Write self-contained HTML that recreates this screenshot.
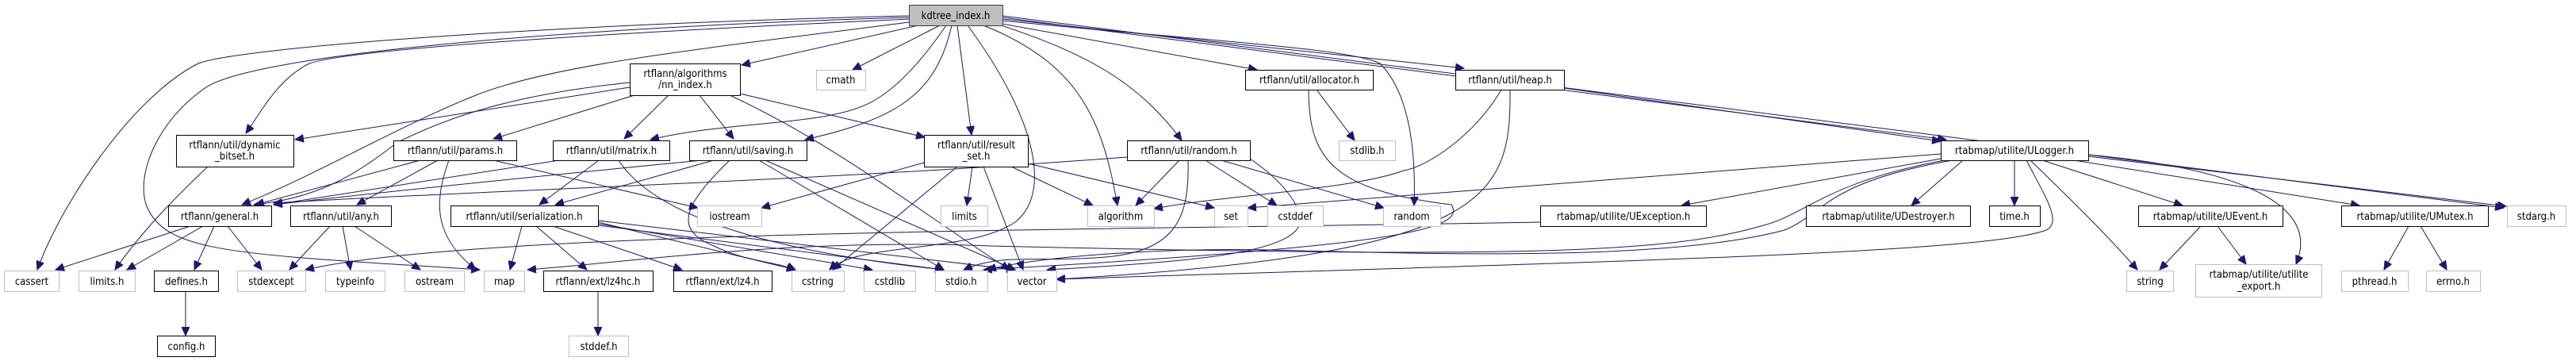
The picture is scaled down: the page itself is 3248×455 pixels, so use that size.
<!DOCTYPE html>
<html><head><meta charset="utf-8"><style>
html,body{margin:0;padding:0;background:#fff;}
svg{display:block;}
text{font-family:"DejaVu Sans Condensed","DejaVu Sans","Liberation Sans",sans-serif;font-size:13px;fill:#000;text-anchor:middle;}
.b{fill:#fff;stroke:#000;stroke-width:1;}
.g{fill:#fff;stroke:#bfbfbf;stroke-width:1;}
.e{fill:none;stroke:#191970;stroke-width:1;marker-end:url(#a);}
</style></head><body>
<svg width="3248" height="455" viewBox="0 0 3248 455" xmlns="http://www.w3.org/2000/svg">
<defs><marker id="a" markerUnits="userSpaceOnUse" markerWidth="12" markerHeight="10" refX="11" refY="5" orient="auto"><path d="M0,0 L11,5 L0,10 z" fill="#191970" stroke="#191970"/></marker></defs>
<g>
<!-- kdtree edges -->
<path class="e" d="M1146,20 C700,30 300,60 250,80 C170,120 80,250 47,340"/>
<path class="e" d="M1146,22 C700,35 320,70 260,110 C200,150 170,220 185,260 C210,320 300,320 605,340"/>
<path class="e" d="M1146,24 C800,40 450,60 390,80 C350,100 330,140 310,168"/>
<path class="e" d="M1146,28 C900,60 700,80 600,120 C500,160 400,220 305,258"/>
<path class="e" d="M1158,32 L935,82"/>
<path class="e" d="M1185,32 L1075,88"/>
<path class="e" d="M1193,32 C1160,80 1130,110 1105,125 C1050,160 930,150 820,176"/>
<path class="e" d="M1200,32 C1180,120 1130,150 1015,176"/>
<path class="e" d="M1207,32 L1225,170"/>
<path class="e" d="M1220,32 C1300,140 1330,240 1280,280 C1220,320 1080,305 1046,340"/>
<path class="e" d="M1240,32 C1360,80 1390,150 1409,259"/>
<path class="e" d="M1262,32 C1380,70 1440,110 1490,177"/>
<path class="e" d="M1264,30 L1585,88"/>
<path class="e" d="M1264,26 C1500,50 1700,60 1740,80 C1780,120 1785,200 1783,259"/>
<path class="e" d="M1264,24 L1846,86"/>
<path class="e" d="M1264,22 L2454,176"/>
<path class="e" d="M1264,20 L3157,262"/>
<!-- nn_index edges -->
<path class="e" d="M794,110 L372,176"/>
<path class="e" d="M794,104 C640,120 560,150 500,180 C450,220 400,250 320,258"/>
<path class="e" d="M800,120 L622,175"/>
<path class="e" d="M843,120 L787,175"/>
<path class="e" d="M882,120 L925,175"/>
<path class="e" d="M933,118 L1166,173"/>
<path class="e" d="M920,120 C1050,180 1150,260 1273,340"/>
<!-- dynamic_bitset -->
<path class="e" d="M262,210 C220,250 180,290 145,340"/>
<!-- params -->
<path class="e" d="M530,202 L322,258"/>
<path class="e" d="M552,202 L450,258"/>
<path class="e" d="M566,202 C545,260 550,300 600,340"/>
<path class="e" d="M622,202 L880,262"/>
<!-- matrix -->
<path class="e" d="M705,202 L345,258"/>
<path class="e" d="M755,202 L680,258"/>
<path class="e" d="M780,202 C830,280 1000,320 1190,340"/>
<!-- saving -->
<path class="e" d="M885,202 C700,220 500,240 345,258"/>
<path class="e" d="M900,202 L700,258"/>
<path class="e" d="M920,202 C860,260 850,290 900,310 C940,330 980,330 1003,340"/>
<path class="e" d="M957,202 L1190,340"/>
<path class="e" d="M965,202 L1280,340"/>
<!-- result_set -->
<path class="e" d="M1165,205 L960,262"/>
<path class="e" d="M1226,210 L1219,259"/>
<path class="e" d="M1275,210 L1378,259"/>
<path class="e" d="M1296,206 L1531,262"/>
<path class="e" d="M1207,210 L1050,340"/>
<path class="e" d="M1240,210 L1290,340"/>
<!-- random.h -->
<path class="e" d="M1421,198 C1000,230 600,240 345,256"/>
<path class="e" d="M1487,202 L1432,259"/>
<path class="e" d="M1520,202 L1610,259"/>
<path class="e" d="M1540,202 L1745,262"/>
<path class="e" d="M1498,202 C1500,280 1480,320 1380,325 C1300,330 1260,320 1215,340"/>
<path class="e" d="M1576,200 C1620,230 1640,260 1640,280 C1630,320 1500,330 1320,340"/>
<!-- allocator -->
<path class="e" d="M1660,113 L1708,177"/>
<path class="e" d="M1650,113 C1650,200 1680,240 1830,258 C1850,290 1760,310 1240,340"/>
<!-- heap -->
<path class="e" d="M1893,113 C1860,170 1800,210 1770,215 C1700,240 1550,245 1455,263"/>
<path class="e" d="M1904,113 C1905,250 1880,320 1332,352"/>
<path class="e" d="M1972,111 L2447,178"/>
<!-- ULogger -->
<path class="e" d="M2447,194 L1573,262"/>
<path class="e" d="M2447,200 L2120,259"/>
<path class="e" d="M2452,202 C2300,230 2280,270 2220,285 C2100,320 1900,325 1250,310 C1000,300 800,330 665,340"/>
<path class="e" d="M2462,202 C2300,230 2300,270 2250,290 C2100,330 1800,320 1600,315 C1450,312 1300,325 1245,340"/>
<path class="e" d="M2475,202 L2410,259"/>
<path class="e" d="M2540,202 L2540,259"/>
<path class="e" d="M2555,202 C2580,250 2600,280 2580,290 C2500,320 2000,330 1332,352"/>
<path class="e" d="M2560,202 C2620,260 2660,300 2695,340"/>
<path class="e" d="M2575,202 L2752,259"/>
<path class="e" d="M2615,202 L2975,259"/>
<path class="e" d="M2633,197 L3160,260"/>
<path class="e" d="M2633,195 C2800,210 2930,250 2895,333"/>
<!-- UException -->
<path class="e" d="M1942,280 C1400,290 600,290 385,340"/>
<!-- serialization -->
<path class="e" d="M658,285 L643,340"/>
<path class="e" d="M676,285 L740,340"/>
<path class="e" d="M697,285 L860,340"/>
<path class="e" d="M754,280 L1003,340"/>
<path class="e" d="M754,282 L1100,340"/>
<path class="e" d="M754,284 L1190,340"/>
<path class="e" d="M754,278 L1280,340"/>
<!-- general -->
<path class="e" d="M240,285 L70,340"/>
<path class="e" d="M256,285 L160,340"/>
<path class="e" d="M270,285 L245,340"/>
<path class="e" d="M287,285 L330,340"/>
<!-- any -->
<path class="e" d="M416,285 L365,340"/>
<path class="e" d="M432,285 L442,340"/>
<path class="e" d="M447,285 L530,340"/>
<!-- leaves -->
<path class="e" d="M234,367 L234,423"/>
<path class="e" d="M754,367 L754,423"/>
<path class="e" d="M2775,285 L2723,340"/>
<path class="e" d="M2796,285 L2832,333"/>
<path class="e" d="M3037,285 L3006,340"/>
<path class="e" d="M3052,285 L3085,340"/>
</g>
<!-- nodes -->
<rect x="1146.5" y="6.5" width="118" height="26" fill="#bfbfbf" stroke="#404040"/><text x="1205" y="24">kdtree_index.h</text>
<rect class="b" x="794.5" y="80.5" width="139" height="40"/><text x="864" y="97">rtflann/algorithms</text><text x="864" y="111">/nn_index.h</text>
<rect class="g" x="1029.5" y="88.5" width="62" height="25"/><text x="1060" y="105">cmath</text>
<rect class="b" x="1570.5" y="88.5" width="161" height="25"/><text x="1651" y="105">rtflann/util/allocator.h</text>
<rect class="b" x="1835.5" y="88.5" width="137" height="25"/><text x="1904" y="105">rtflann/util/heap.h</text>
<rect class="b" x="222.5" y="170.5" width="148" height="40"/><text x="296" y="187">rtflann/util/dynamic</text><text x="296" y="201">_bitset.h</text>
<rect class="b" x="496.5" y="177.5" width="155" height="25"/><text x="574" y="194">rtflann/util/params.h</text>
<rect class="b" x="697.5" y="177.5" width="147" height="25"/><text x="771" y="194">rtflann/util/matrix.h</text>
<rect class="b" x="869.5" y="177.5" width="148" height="25"/><text x="943" y="194">rtflann/util/saving.h</text>
<rect class="b" x="1165.5" y="170.5" width="131" height="40"/><text x="1231" y="187">rtflann/util/result</text><text x="1231" y="201">_set.h</text>
<rect class="b" x="1421.5" y="177.5" width="155" height="25"/><text x="1499" y="194">rtflann/util/random.h</text>
<rect class="g" x="1688.5" y="177.5" width="71" height="25"/><text x="1724" y="194">stdlib.h</text>
<rect class="b" x="2447.5" y="177.5" width="186" height="25"/><text x="2540" y="194">rtabmap/utilite/ULogger.h</text>
<rect class="b" x="212.5" y="259.5" width="130" height="26"/><text x="277" y="277">rtflann/general.h</text>
<rect class="b" x="366.5" y="259.5" width="127" height="26"/><text x="430" y="277">rtflann/util/any.h</text>
<rect class="b" x="568.5" y="259.5" width="186" height="26"/><text x="661" y="277">rtflann/util/serialization.h</text>
<rect class="g" x="879.5" y="259.5" width="81" height="26"/><text x="920" y="277">iostream</text>
<rect class="g" x="1186.5" y="259.5" width="59" height="26"/><text x="1216" y="277">limits</text>
<rect class="g" x="1371.5" y="259.5" width="84" height="26"/><text x="1413" y="277">algorithm</text>
<rect class="g" x="1531.5" y="259.5" width="42" height="26"/><text x="1552" y="277">set</text>
<rect class="g" x="1598.5" y="259.5" width="70" height="26"/><text x="1633" y="277">cstddef</text>
<rect class="g" x="1744.5" y="259.5" width="72" height="26"/><text x="1780" y="277">random</text>
<rect class="b" x="1942.5" y="259.5" width="209" height="26"/><text x="2047" y="277">rtabmap/utilite/UException.h</text>
<rect class="b" x="2277.5" y="259.5" width="207" height="26"/><text x="2381" y="277">rtabmap/utilite/UDestroyer.h</text>
<rect class="b" x="2508.5" y="259.5" width="64" height="26"/><text x="2540" y="277">time.h</text>
<rect class="b" x="2696.5" y="259.5" width="182" height="26"/><text x="2787" y="277">rtabmap/utilite/UEvent.h</text>
<rect class="b" x="2952.5" y="259.5" width="185" height="26"/><text x="3045" y="277">rtabmap/utilite/UMutex.h</text>
<rect class="g" x="3161.5" y="259.5" width="74" height="26"/><text x="3198" y="277">stdarg.h</text>
<rect class="g" x="5.5" y="341.5" width="69" height="26"/><text x="40" y="359">cassert</text>
<rect class="g" x="99.5" y="341.5" width="71" height="26"/><text x="135" y="359">limits.h</text>
<rect class="b" x="194.5" y="341.5" width="81" height="26"/><text x="235" y="359">defines.h</text>
<rect class="g" x="299.5" y="341.5" width="86" height="26"/><text x="342" y="359">stdexcept</text>
<rect class="g" x="410.5" y="341.5" width="75" height="26"/><text x="448" y="359">typeinfo</text>
<rect class="g" x="510.5" y="341.5" width="75" height="26"/><text x="548" y="359">ostream</text>
<rect class="g" x="610.5" y="341.5" width="51" height="26"/><text x="636" y="359">map</text>
<rect class="b" x="685.5" y="341.5" width="138" height="26"/><text x="754" y="359">rtflann/ext/lz4hc.h</text>
<rect class="b" x="849.5" y="341.5" width="124" height="26"/><text x="911" y="359">rtflann/ext/lz4.h</text>
<rect class="g" x="998.5" y="341.5" width="66" height="26"/><text x="1031" y="359">cstring</text>
<rect class="g" x="1089.5" y="341.5" width="65" height="26"/><text x="1122" y="359">cstdlib</text>
<rect class="g" x="1179.5" y="341.5" width="66" height="26"/><text x="1212" y="359">stdio.h</text>
<rect class="g" x="1270.5" y="341.5" width="62" height="26"/><text x="1301" y="359">vector</text>
<rect class="g" x="2681.5" y="341.5" width="59" height="26"/><text x="2711" y="359">string</text>
<rect class="g" x="2768.5" y="333.5" width="159" height="41"/><text x="2848" y="350">rtabmap/utilite/utilite</text><text x="2848" y="365">_export.h</text>
<rect class="g" x="2952.5" y="341.5" width="84" height="26"/><text x="2994" y="359">pthread.h</text>
<rect class="g" x="3059.5" y="341.5" width="68" height="26"/><text x="3093" y="359">errno.h</text>
<rect class="b" x="198.5" y="423.5" width="73" height="26"/><text x="235" y="441">config.h</text>
<rect class="g" x="717.5" y="423.5" width="75" height="26"/><text x="755" y="441">stddef.h</text>
</svg>
</body></html>
